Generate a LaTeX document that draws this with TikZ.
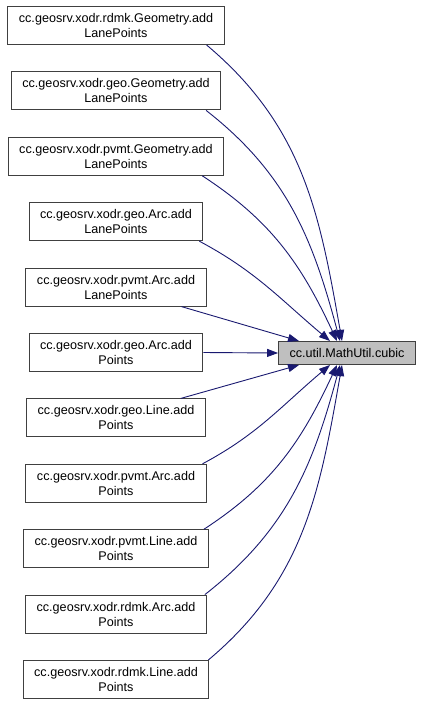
\documentclass[tikz,border=0pt]{standalone}
\usepackage{fontspec}
\setmainfont{Liberation Sans}
\usetikzlibrary{arrows.meta, positioning}
\definecolor{edgeblue}{HTML}{191970}
\definecolor{boxgray}{HTML}{404040}
\definecolor{rootfill}{HTML}{BFBFBF}

\begin{document}
\begin{tikzpicture}[x=1pt, y=1pt,
    fnbox/.style={draw=boxgray, fill=white, line width=1pt, minimum height=38pt,
        inner xsep=11pt, inner ysep=2pt, align=center, font=\fontsize{12.6}{15}\selectfont},
    fnroot/.style={fnbox, fill=rootfill, minimum height=23pt},
    calledge/.style={edgeblue, line width=0.9pt, -{Triangle[length=11pt, width=8pt]}}]

    \useasboundingbox (0,0) rectangle (421,-705);

    % Draw the callers
    \node[fnbox] (b1) at (116,-25.5) {cc.geosrv.xodr.rdmk.Geometry.add\\LanePoints};
    \node[fnbox, below=26.4pt of b1] (b2) {cc.geosrv.xodr.geo.Geometry.add\\LanePoints};
    \node[fnbox, below=26.4pt of b2] (b3) {cc.geosrv.xodr.pvmt.Geometry.add\\LanePoints};
    \node[fnbox, below=26.4pt of b3] (b4) {cc.geosrv.xodr.geo.Arc.add\\LanePoints};
    \node[fnbox, below=26.4pt of b4] (b5) {cc.geosrv.xodr.pvmt.Arc.add\\LanePoints};
    \node[fnbox, below=26.4pt of b5] (b6) {cc.geosrv.xodr.geo.Arc.add\\Points};
    \node[fnbox, below=26.4pt of b6] (b7) {cc.geosrv.xodr.geo.Line.add\\Points};
    \node[fnbox, below=26.4pt of b7] (b8) {cc.geosrv.xodr.pvmt.Arc.add\\Points};
    \node[fnbox, below=26.4pt of b8] (b9) {cc.geosrv.xodr.pvmt.Line.add\\Points};
    \node[fnbox, below=26.4pt of b9] (b10) {cc.geosrv.xodr.rdmk.Arc.add\\Points};
    \node[fnbox, below=26.4pt of b10] (b11) {cc.geosrv.xodr.rdmk.Line.add\\Points};

    % Draw the called function
    \node[fnroot] (t) at (347,-353) {cc.util.MathUtil.cubic};

    % Draw the calls
    \draw[calledge] ([xshift=-18pt]b1.south east) to[out=-40, in=100] ([xshift=-5pt]t.north);
    \draw[calledge] ([xshift=-15pt]b2.south east) to[out=-38, in=105] ([xshift=-7pt]t.north);
    \draw[calledge] ([xshift=-22pt]b3.south east) to[out=-33, in=115] ([xshift=-10pt]t.north);
    \draw[calledge] ([xshift=-4pt]b4.south east) to[out=-28, in=140] ([xshift=-17pt]t.north);
    \draw[calledge] ([xshift=-25pt]b5.south east) -- ([xshift=-48pt]t.north);
    \draw[calledge] (b6.east) -- (t.west);
    \draw[calledge] ([xshift=-25pt]b7.north east) -- ([xshift=-48pt]t.south);
    \draw[calledge] ([xshift=-4pt]b8.north east) to[out=28, in=-140] ([xshift=-17pt]t.south);
    \draw[calledge] ([xshift=-5pt]b9.north east) to[out=33, in=-115] ([xshift=-10pt]t.south);
    \draw[calledge] ([xshift=-2pt]b10.north east) to[out=38, in=-105] ([xshift=-7pt]t.south);
    \draw[calledge] ([xshift=-1pt]b11.north east) to[out=40, in=-100] ([xshift=-5pt]t.south);
\end{tikzpicture}
\end{document}
